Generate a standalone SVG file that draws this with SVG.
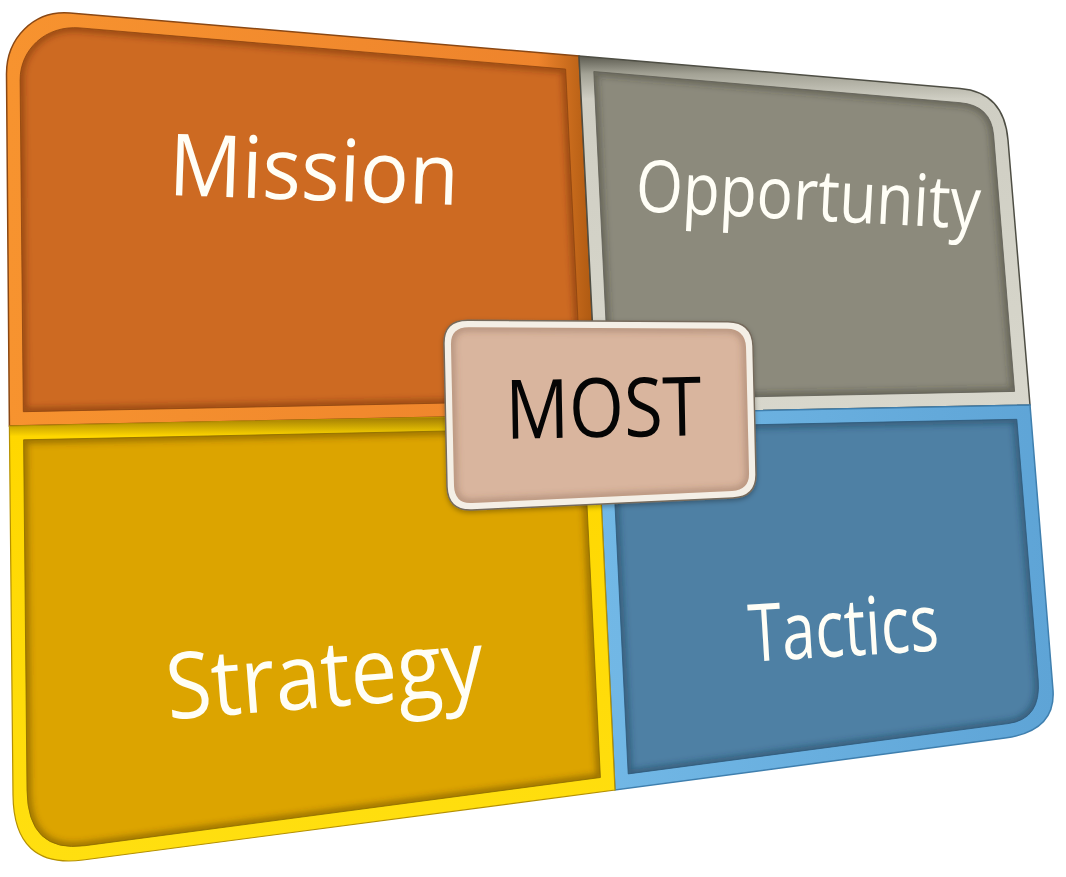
<svg xmlns="http://www.w3.org/2000/svg" width="1066" height="877" viewBox="0 0 1066 877">
<style>
.lbl{font-family:"Open Sans","Liberation Sans",sans-serif;text-anchor:middle;fill:#fffef6}
.ish{fill:none;stroke-width:8;filter:url(#blur3)}
</style>
<defs>
<filter id="blur3" x="-5%" y="-5%" width="110%" height="110%"><feGaussianBlur stdDeviation="3"/></filter>
<filter id="drop" x="-10%" y="-10%" width="120%" height="130%"><feDropShadow dx="0" dy="2" stdDeviation="2.5" flood-color="#000" flood-opacity=".3"/></filter>
<clipPath id="cMi"><path d="M20.1,80 C20,50 45,25 80,27.9 L565.6,69.1 L581.9,400.3 L23.3,411.7 Z"/></clipPath>
<clipPath id="cOp"><path d="M593.8,71.5 L960,102.7 Q991,105.3 993.6,135 L1014.6,391.4 L609.8,399.7 Z"/></clipPath>
<clipPath id="cTa"><path d="M611.2,427.7 L1016.8,419.3 L1038.2,680 Q1041.4,719.2 1008,723.6 L628.2,773.9 Z"/></clipPath>
<clipPath id="cSt"><path d="M23.6,439.8 L583.2,428.2 L600.4,777.5 L85,845.7 Q27.6,853.3 27,790 Z"/></clipPath>
<clipPath id="cMo"><path d="M451,346 Q450,327 469,327.2 L727,328.7 Q745,329 746,347 L749,472 Q750,490 732,491 L472,503 Q455,504 454,486 Z"/></clipPath>
<linearGradient id="gMiR" x1="0" y1="0" x2="1" y2="0"><stop offset="0" stop-color="#f7932f"/><stop offset="0.9" stop-color="#ee842c"/><stop offset="1" stop-color="#a9560f"/></linearGradient>
<linearGradient id="gOpR" x1="0" y1="0" x2="0" y2="1"><stop offset="0" stop-color="#5c5b50"/><stop offset="0.05" stop-color="#a3a295"/><stop offset="0.12" stop-color="#cfcec3"/><stop offset="1" stop-color="#d8d7cc"/></linearGradient>
<linearGradient id="gTaR" x1="0" y1="0" x2="1" y2="0"><stop offset="0" stop-color="#72b8e6"/><stop offset="1" stop-color="#5ea4d6"/></linearGradient>
<linearGradient id="gStR" x1="0" y1="0" x2="0" y2="1"><stop offset="0" stop-color="#8f6c05"/><stop offset="0.05" stop-color="#ffd700"/><stop offset="1" stop-color="#ffdf10"/></linearGradient>
</defs>
<rect width="1066" height="877" fill="#ffffff"/>
<g id="connectors"></g>
<g id="node-mission">
<path d="M6.5,75 C6,38 34,10 70,13 L579,56 L597,414 L9.4,426 Z" fill="url(#gMiR)" stroke="#8a4713" stroke-width="1.5"/>
<path d="M20.1,80 C20,50 45,25 80,27.9 L565.6,69.1 L581.9,400.3 L23.3,411.7 Z" fill="#cd6a22"/>
<path class="ish" d="M20.1,80 C20,50 45,25 80,27.9 L565.6,69.1 L581.9,400.3 L23.3,411.7 Z" stroke="#5a2705" stroke-opacity=".45" clip-path="url(#cMi)"/>
<path d="M20.1,80 C20,50 45,25 80,27.9 L565.6,69.1 L581.9,400.3 L23.3,411.7 Z" fill="none" stroke="#8d4410" stroke-width="1" stroke-opacity=".8"/>
<text class="lbl" x="313" y="200" font-size="86" textLength="290" lengthAdjust="spacingAndGlyphs" transform="rotate(2 313 200)">Mission</text>
</g>
<g id="node-opportunity">
<path d="M579,56 L960,88.4 Q1004,92 1008,140 L1030,405 L597,414 Z" fill="url(#gOpR)" stroke="#4e4e44" stroke-width="1.5"/>
<path d="M593.8,71.5 L960,102.7 Q991,105.3 993.6,135 L1014.6,391.4 L609.8,399.7 Z" fill="#8c8a7c"/>
<path class="ish" d="M593.8,71.5 L960,102.7 Q991,105.3 993.6,135 L1014.6,391.4 L609.8,399.7 Z" stroke="#2f2f28" stroke-opacity=".4" clip-path="url(#cOp)"/>
<path d="M593.8,71.5 L960,102.7 Q991,105.3 993.6,135 L1014.6,391.4 L609.8,399.7 Z" fill="none" stroke="#5f5e53" stroke-width="1" stroke-opacity=".8"/>
<text class="lbl" x="807" y="220" font-size="72" textLength="345" lengthAdjust="spacingAndGlyphs" transform="rotate(3 807 220)">Opportunity</text>
</g>
<g id="node-tactics">
<path d="M597,414 L1030,405 L1053,690 Q1056,731 1005,738 L615,790 Z" fill="url(#gTaR)" stroke="#3f7fae" stroke-width="1.5"/>
<path d="M611.2,427.7 L1016.8,419.3 L1038.2,680 Q1041.4,719.2 1008,723.6 L628.2,773.9 Z" fill="#4e80a4"/>
<path class="ish" d="M611.2,427.7 L1016.8,419.3 L1038.2,680 Q1041.4,719.2 1008,723.6 L628.2,773.9 Z" stroke="#10304a" stroke-opacity=".45" clip-path="url(#cTa)"/>
<path d="M611.2,427.7 L1016.8,419.3 L1038.2,680 Q1041.4,719.2 1008,723.6 L628.2,773.9 Z" fill="none" stroke="#2d5878" stroke-width="1" stroke-opacity=".8"/>
<text class="lbl" x="845" y="656" font-size="80" textLength="190" lengthAdjust="spacingAndGlyphs" transform="rotate(-3.5 845 656)">Tactics</text>
</g>
<g id="node-strategy">
<path d="M9.4,426 L597,414 L615,790 L83,860 Q13.7,869 13,795 Z" fill="url(#gStR)" stroke="#b59000" stroke-width="1.2"/>
<path d="M23.6,439.8 L583.2,428.2 L600.4,777.5 L85,845.7 Q27.6,853.3 27,790 Z" fill="#dca400"/>
<path class="ish" d="M23.6,439.8 L583.2,428.2 L600.4,777.5 L85,845.7 Q27.6,853.3 27,790 Z" stroke="#4a3500" stroke-opacity=".45" clip-path="url(#cSt)"/>
<path d="M23.6,439.8 L583.2,428.2 L600.4,777.5 L85,845.7 Q27.6,853.3 27,790 Z" fill="none" stroke="#8a6a00" stroke-width="1" stroke-opacity=".8"/>
<text class="lbl" x="327" y="707" font-size="92" textLength="318" lengthAdjust="spacingAndGlyphs" transform="rotate(-4.5 327 707)">Strategy</text>
</g>
<g id="node-most">
<path d="M444,345 Q443,320 468,320.2 L728,321.8 Q752,322 753,346 L756,473 Q757,497 733,498 L472,510 Q448,511 447,487 Z" fill="#f4efe6" stroke="#756a5c" stroke-width="1.5" filter="url(#drop)"/>
<path d="M451,346 Q450,327 469,327.2 L727,328.7 Q745,329 746,347 L749,472 Q750,490 732,491 L472,503 Q455,504 454,486 Z" fill="#d9b59e"/>
<path class="ish" d="M451,346 Q450,327 469,327.2 L727,328.7 Q745,329 746,347 L749,472 Q750,490 732,491 L472,503 Q455,504 454,486 Z" stroke="#6a4a35" stroke-opacity=".3" clip-path="url(#cMo)"/>
<text x="604" y="437" font-family="'Open Sans','Liberation Sans',sans-serif" font-size="82" text-anchor="middle" fill="#050505" textLength="196" lengthAdjust="spacingAndGlyphs" transform="rotate(-1 604 437)">MOST</text>
</g>
</svg>
